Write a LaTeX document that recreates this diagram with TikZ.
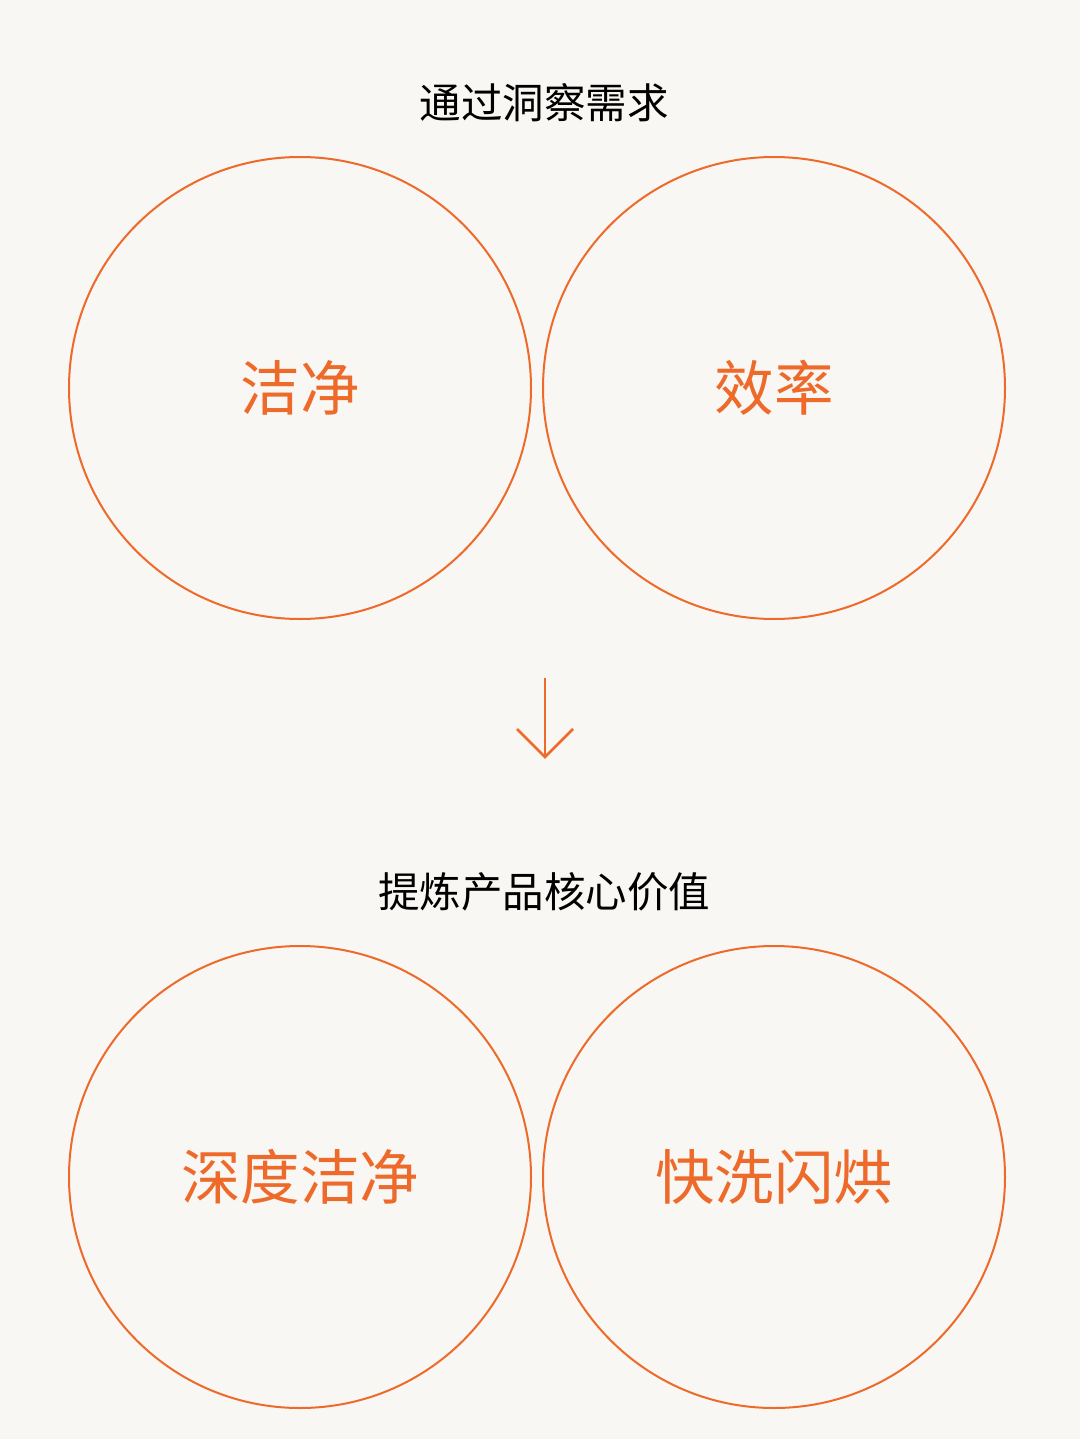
\documentclass[tikz,border=0pt]{standalone}
\usepackage{fontspec}
\setmainfont{Noto Sans CJK SC}
\usetikzlibrary{positioning}
\definecolor{bgpaper}{HTML}{F8F7F3}
\definecolor{accent}{HTML}{EE6A2A}
\tikzset{
  ring/.style={draw=accent, line width=2pt, circle, minimum size=462pt, inner sep=0pt},
  keyword/.style={text=accent, font=\fontsize{59.5pt}{63pt}\selectfont},
  heading/.style={text=black, font=\fontsize{41.5pt}{45pt}\selectfont}
}
\begin{document}
\begin{tikzpicture}[x=1pt, y=-1pt]
  \fill[bgpaper] (0,0) rectangle (1080,1439);
  \useasboundingbox (0,0) rectangle (1080,1439);

  \node[heading] (need) at (544,103) {通过洞察需求};
  \node[ring] (clean) at (300,388) {};
  \node[ring] (speed) at (774,388) {};
  \node[keyword] at (clean) {洁净};
  \node[keyword] at (speed) {效率};

  \coordinate (arrowtop) at (545,678);
  \coordinate (arrowtip) at (545,757);
  \draw[accent, line width=2.8pt] (arrowtop) -- (arrowtip);
  \draw[accent, line width=2.8pt] ([xshift=-28pt,yshift=28pt]arrowtip) -- (arrowtip) -- ([xshift=28pt,yshift=28pt]arrowtip);

  \node[heading] (value) at (544,892) {提炼产品核心价值};
  \node[ring] (deep) at (300,1177) {};
  \node[ring] (fast) at (774,1177) {};
  \node[keyword] at (deep) {深度洁净};
  \node[keyword] at (fast) {快洗闪烘};
\end{tikzpicture}
\end{document}
